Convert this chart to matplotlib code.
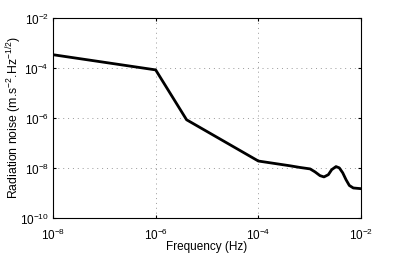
import numpy as np
import matplotlib.pyplot as plt
from matplotlib.ticker import NullLocator

plt.rcParams['font.family'] = ['Liberation Sans', 'DejaVu Sans']
plt.rcParams['mathtext.fontset'] = 'custom'
plt.rcParams['mathtext.rm'] = 'Liberation Sans'
plt.rcParams['mathtext.it'] = 'Liberation Sans:italic'

# values
freq = [1e-8, 1e-6, 4e-6, 1e-4, 4.1e-4, 6.5e-4, 1.02e-3, 1.27e-3, 1.59e-3,
        1.9e-3, 2.31e-3, 2.69e-3, 3.26e-3, 3.78e-3, 4.41e-3, 5.11e-3,
        5.93e-3, 7.08e-3, 1e-2]
noise = [3.4e-4, 8.4e-5, 8.5e-7, 1.9e-8, 1.23e-8, 1.05e-8, 9.2e-9, 7.0e-9, 4.95e-9,
         4.4e-9, 5.4e-9, 8.6e-9, 1.14e-8, 1.01e-8, 6.4e-9, 3.4e-9,
         2.0e-9, 1.59e-9, 1.49e-9]
xticks = [1e-8, 1e-6, 1e-4, 1e-2]
yticks = [1e-10, 1e-8, 1e-6, 1e-4, 1e-2]

fig = plt.figure(figsize=(3.99, 2.55), dpi=100)
ax = fig.add_axes([53/399, 1-219/255, 308/399, 200/255])
ax.loglog(freq, noise, color="k", lw=2, solid_joinstyle="round")
ax.set_xlim(1e-8, 1e-2)
ax.set_ylim(1e-10, 1e-2)
ax.set_xticks(xticks)
ax.set_yticks(yticks)
ax.xaxis.set_minor_locator(NullLocator())
ax.yaxis.set_minor_locator(NullLocator())
ax.grid(True, ls=(0, (1, 4)), color="#999999", lw=0.7)
ax.tick_params(direction="in", length=2, labelsize=8.5, top=True, right=True, pad=3)
ax.tick_params(axis="x", pad=6)
for s in ax.spines.values():
    s.set_linewidth(0.8)
ax.set_xlabel("Frequency (Hz)", fontsize=8.5)
ax.set_ylabel("Radiation noise (m.s$^{-2}$.Hz$^{-1/2}$)", fontsize=8.8)
ax.xaxis.set_label_coords(0.5, -0.11)
ax.yaxis.set_label_coords(-0.095, 0.51)

plt.savefig("out.png", dpi=100, facecolor="white")
